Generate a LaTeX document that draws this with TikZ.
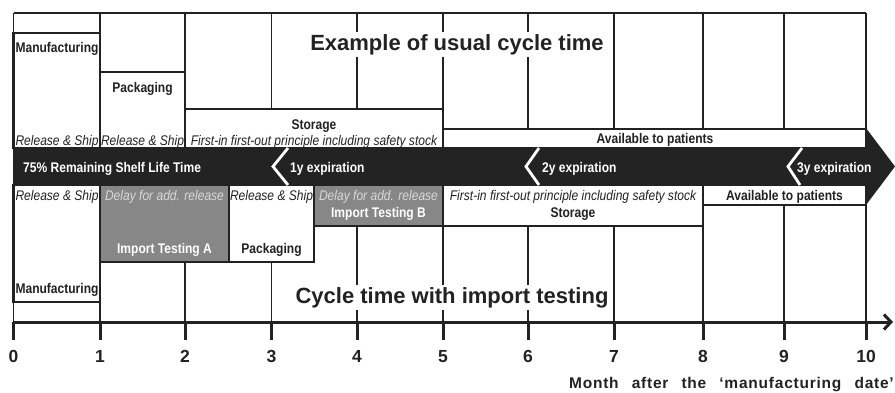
\documentclass[tikz,border=0pt]{standalone}
\usepackage{fontspec}
\setmainfont{Liberation Sans}
\newfontfamily\cond{Liberation Sans}[FakeStretch=0.86]
\newfontfamily\spacedfont{Liberation Sans}[LetterSpace=5]
\usetikzlibrary{arrows.meta}
\definecolor{ink}{HTML}{222222}
\definecolor{bandc}{HTML}{232323}
\definecolor{boxgray}{HTML}{878787}
\definecolor{paletext}{HTML}{D8D8D8}
\begin{document}
\begin{tikzpicture}[x=1pt,y=-1pt,
  gridline/.style={ink, line width=1.6pt},
  boxw/.style={draw=ink, line width=2.8pt, fill=white},
  boxg/.style={draw=ink, line width=2.8pt, fill=boxgray},
  lbl/.style={font=\cond\bfseries\fontsize{14}{16}\selectfont, text=ink, inner sep=0pt, anchor=base},
  itl/.style={font=\cond\itshape\fontsize{14}{16}\selectfont, text=ink, inner sep=0pt, anchor=base},
  paleitl/.style={itl, text=paletext},
  whitelbl/.style={lbl, text=white},
  bandlbl/.style={lbl, text=white, anchor=base west},
  ttl/.style={font=\bfseries\fontsize{22}{24}\selectfont, text=ink, fill=white, inner sep=2pt, anchor=base},
  num/.style={font=\bfseries\fontsize{17.5}{19}\selectfont, text=ink, inner sep=0pt, anchor=base},
  chev/.style={white, line width=2.8pt},
  tick/.style={ink, line width=3pt}
]
\useasboundingbox (0,0) rectangle (895,392);

% month positions
\foreach \m/\x in {0/13.5,1/100,2/185,3/271.5,4/357,5/443,6/528,7/614,8/703,9/784,10/866}{
  \coordinate (g\m) at (\x,13);
  \coordinate (a\m) at (\x,322);
}
% grid
\foreach \m in {0,...,10}{ \draw[gridline] (g\m) -- (a\m); }
\draw[gridline] (g0) -- (g10);

% titles (white background breaks the grid)
\node[ttl] (t1) at (457,50) {Example of usual cycle time};
\node[ttl] (t2) at (452,303) {Cycle time with import testing};

% upper boxes
\draw[boxw] (13.5,33) rectangle (100,148);
\draw[boxw] (100,72) rectangle (185,148);
\draw[boxw] (185,109) rectangle (443,148);
\draw[boxw] (443,129) rectangle (866,148);

% lower boxes
\draw[boxw] (13.5,185) rectangle (100,302);
\draw[boxg] (100,185) rectangle (229,262);
\draw[boxw] (229,185) rectangle (314,262);
\draw[boxg] (314,185) rectangle (443,226);
\draw[boxw] (443,185) rectangle (703,226);
\draw[boxw] (703,185) rectangle (866,205);

% black band arrow
\fill[bandc] (13.5,148) -- (866,148) -- (866,128) -- (895,166.5) -- (866,205) -- (866,185) -- (13.5,185) -- cycle;
\draw[chev] (288,148) -- (273,166.5) -- (288,185);
\draw[chev] (539,148) -- (526,166.5) -- (539,185);
\draw[chev] (802,148) -- (788,166.5) -- (800,185);

% band labels
\node[bandlbl] (b0) at (23,172) {75\% Remaining Shelf Life Time};
\node[bandlbl] (b1) at (290,172) {1y expiration};
\node[bandlbl] (b2) at (542,172) {2y expiration};
\node[bandlbl] (b3) at (797,172) {3y expiration};

% upper texts
\node[lbl] (um) at (57,52.5) {Manufacturing};
\node[itl] (ur1) at (57,145.5) {Release \& Ship};
\node[lbl] (up) at (142.5,92) {Packaging};
\node[itl] (ur2) at (142.5,145.5) {Release \& Ship};
\node[lbl] (us) at (314,129.5) {Storage};
\node[itl] (uf) at (314,145.5) {First-in first-out principle including safety stock};
\node[lbl] (ua) at (655,143.5) {Available to patients};

% lower texts
\node[itl] (lr1) at (57,200) {Release \& Ship};
\node[lbl] (lm) at (57,293.3) {Manufacturing};
\node[paleitl] (ld1) at (164.5,200) {Delay for add. release};
\node[whitelbl] (lia) at (164.5,253) {Import Testing A};
\node[itl] (lr2) at (271.5,200) {Release \& Ship};
\node[lbl] (lp) at (271.5,253) {Packaging};
\node[paleitl] (ld2) at (378.5,200) {Delay for add. release};
\node[whitelbl] (lib) at (378.5,217.7) {Import Testing B};
\node[itl] (lf) at (573,200) {First-in first-out principle including safety stock};
\node[lbl] (ls) at (573,217.7) {Storage};
\node[lbl] (la) at (784.5,200) {Available to patients};

% axis
\coordinate (axend) at (893,322);
\draw[ink, line width=3pt, -{Straight Barb[length=7pt,width=15pt]}] (a0) -- (axend);
\foreach \m/\x in {0/13.5,1/100,2/185,3/271.5,4/357,5/443,6/528,7/614,8/703,9/784,10/866}{
  \coordinate (k\m) at (\x,340);
  \draw[tick] (a\m) -- (k\m);
  \node[num] (n\m) at (\x,362.7) {\m};
}
\node[font=\spacedfont\bfseries\fontsize{15.5}{17}\selectfont, text=ink, inner sep=0pt, anchor=base east] (xlabel) at (894,388.3) {Month\hspace{8pt} after\hspace{8pt} the\hspace{8pt} ‘manufacturing\hspace{8pt} date’};
\end{tikzpicture}
\end{document}
